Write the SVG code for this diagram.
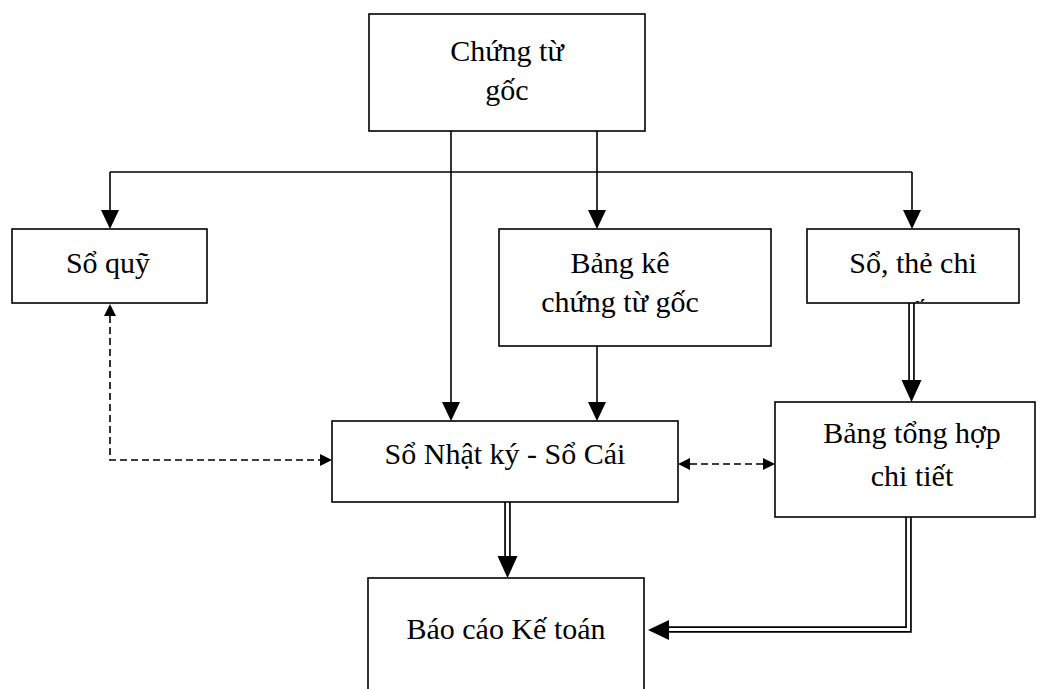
<svg xmlns="http://www.w3.org/2000/svg" width="1042" height="689" viewBox="0 0 1042 689">
<style>
.box{fill:#fff;stroke:#000;stroke-width:1.6}
.t{font-family:"Liberation Serif","Times New Roman",serif;font-size:30px;fill:#000;text-anchor:middle}
.ln{fill:none;stroke:#000;stroke-width:1.6}
.dash{fill:none;stroke:#000;stroke-width:1.6;stroke-dasharray:7 4}
.dbo{fill:none;stroke:#000;stroke-width:6.6;stroke-linejoin:miter}
.dbi{fill:none;stroke:#fff;stroke-width:3.2;stroke-linejoin:miter}
.ah{fill:#000}
</style>
<defs>
<clipPath id="clipSo"><rect x="808" y="230" width="210" height="72"/></clipPath>
</defs>
<rect width="1042" height="689" fill="#fff"/>

<g id="connectors">
  <path class="ln" d="M451 131 V404"/>
  <path class="ln" d="M597 131 V212"/>
  <path class="ln" d="M110 172 H912"/>
  <path class="ln" d="M110 172 V212"/>
  <path class="ln" d="M912 172 V212"/>
  <path class="ln" d="M597 346 V404"/>
  <polygon class="ah" points="101,210 119,210 110,229"/>
  <polygon class="ah" points="588,210 606,210 597,229"/>
  <polygon class="ah" points="903,210 921,210 912,229"/>
  <polygon class="ah" points="442,402 460,402 451,421"/>
  <polygon class="ah" points="588,402 606,402 597,421"/>
  <path class="dash" d="M110 316 V460 H320"/>
  <polygon class="ah" points="104,316 116,316 110,304"/>
  <polygon class="ah" points="320,454 320,466 332,460"/>
  <path class="dash" d="M690 464 H763"/>
  <polygon class="ah" points="690,458 690,470 678,464"/>
  <polygon class="ah" points="763,458 763,470 775,464"/>
  <path class="dbo" d="M911.5 303 V382"/>
  <path class="dbi" d="M911.5 303 V382"/>
  <polygon class="ah" points="901.5,380 921.5,380 911.5,402"/>
  <path class="dbo" d="M507.5 502 V558"/>
  <path class="dbi" d="M507.5 502 V558"/>
  <polygon class="ah" points="497.5,556 517.5,556 507.5,578"/>
  <path class="dbo" d="M908.5 517 V629.5 H667"/>
  <path class="dbi" d="M908.5 517 V629.5 H667"/>
  <polygon class="ah" points="669,620 669,640 648,630"/>
</g>

<g id="node-chungtugoc">
  <rect class="box" x="369" y="14" width="276" height="117"/>
  <text class="t" x="507" y="61">Chứng từ</text>
  <text class="t" x="507" y="100">gốc</text>
</g>
<g id="node-soquy">
  <rect class="box" x="12" y="229" width="195" height="74"/>
  <text class="t" x="108" y="273">Sổ quỹ</text>
</g>
<g id="node-bangke">
  <rect class="box" x="499" y="229" width="272" height="117"/>
  <text class="t" x="620" y="273">Bảng kê</text>
  <text class="t" x="620" y="312">chứng từ gốc</text>
</g>
<g id="node-sothe">
  <rect class="box" x="807" y="229" width="212" height="74"/>
  <g clip-path="url(#clipSo)">
    <text class="t" x="913" y="273">Sổ, thẻ chi</text>
    <text class="t" x="913" y="321">tiết</text>
  </g>
</g>
<g id="node-nhatky">
  <rect class="box" x="332" y="421" width="346" height="81"/>
  <text class="t" x="505" y="464">Sổ Nhật ký - Sổ Cái</text>
</g>
<g id="node-bangtonghop">
  <rect class="box" x="775" y="402" width="260" height="115"/>
  <text class="t" x="912" y="443">Bảng tổng hợp</text>
  <text class="t" x="912" y="486">chi tiết</text>
</g>
<g id="node-baocao">
  <rect class="box" x="368" y="578" width="276" height="130"/>
  <text class="t" x="506" y="639">Báo cáo Kế toán</text>
</g>
</svg>
